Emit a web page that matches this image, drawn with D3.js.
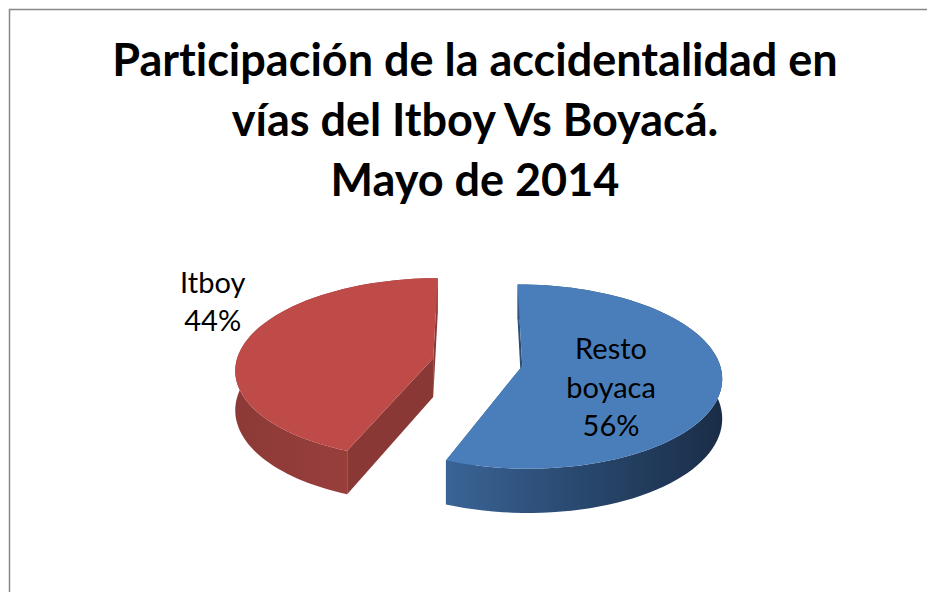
<!DOCTYPE html>
<html>
<head>
<meta charset="utf-8">
<script src="https://cdn.jsdelivr.net/npm/d3@7"></script>
<style>
  html, body { margin: 0; padding: 0; background: #fff; }
  svg { display: block; }
  text { font-family: Lato, "Open Sans", sans-serif; fill: #000; font-variant-ligatures: none; }
</style>
</head>
<body>
<div id="chart"></div>
<script>
const titleLines = ['Participación de la accidentalidad en', 'vías del Itboy Vs Boyacá.', 'Mayo de 2014']
const categories = ['Resto boyaca', 'Itboy']
const labelLines = [['Resto', 'boyaca', '56%'], ['Itboy', '44%']]
const values = [56, 44]
const topColors = ['#4a7ebb', '#be4b48']
const sideColors = ['#2d4d75', '#8a3835']

const width = 927
const height = 592

const cx = 477.5
const cy = 362
const rx = 197
const ry = 90
const perspective = 0.115
const depth = 39
const explode = 0.23

const svg = d3.select('#chart')
  .append('svg')
  .attr('width', width)
  .attr('height', height)

const defs = svg.append('defs')

const blueWall = defs.append('linearGradient').attr('id', 'wall0')
blueWall.append('stop').attr('offset', '0%').attr('stop-color', '#3a6496')
blueWall.append('stop').attr('offset', '45%').attr('stop-color', '#2a4a71')
blueWall.append('stop').attr('offset', '100%').attr('stop-color', '#1a2d47')

const redWall = defs.append('linearGradient').attr('id', 'wall1')
redWall.append('stop').attr('offset', '0%').attr('stop-color', '#8c3a37')
redWall.append('stop').attr('offset', '75%').attr('stop-color', '#9c403d')
redWall.append('stop').attr('offset', '100%').attr('stop-color', '#a3433f')

// page frame, open on the right and at the bottom
svg.append('path')
  .attr('d', `M9.5,${height}V9.5H${width}`)
  .attr('fill', 'none')
  .attr('stroke', '#878787')
  .attr('stroke-width', 1.5)

svg.selectAll('text.title')
  .data(titleLines)
  .join('text')
  .attr('class', 'title')
  .attr('x', 475)
  .attr('y', (d, i) => 76 + i * 60)
  .attr('text-anchor', 'middle')
  .style('font-size', '45px')
  .style('font-weight', 700)
  .text(d => d)

const pie = d3.pie().sort(null).value(d => d)
const slices = pie(values)

// unit disc -> screen, with the explode offset and a lift for the wall bottom
function project(a, r, slice, z) {
  const mid = (slice.startAngle + slice.endAngle) / 2
  const X = Math.sin(a) * r + Math.sin(mid) * explode
  const Y = -Math.cos(a) * r - Math.cos(mid) * explode
  const w = 1 - perspective * Y
  return [cx + rx * X / w, cy + ry * Y / w + z * depth / w]
}

const line = d3.line()

function rim(slice, z) {
  const n = 80
  return d3.range(n + 1).map(i => {
    const a = slice.startAngle + (slice.endAngle - slice.startAngle) * i / n
    return project(a, 1, slice, z)
  })
}

function radialWall(slice, a) {
  return [
    project(a, 1, slice, 0),
    project(a, 0, slice, 0),
    project(a, 0, slice, 1),
    project(a, 1, slice, 1)
  ]
}

const groups = svg.selectAll('g.slice')
  .data(slices)
  .join('g')
  .attr('class', 'slice')

groups.append('path')
  .attr('d', d => line(radialWall(d, d.startAngle)) + 'Z')
  .attr('fill', (d, i) => sideColors[i])

groups.append('path')
  .attr('d', d => line(radialWall(d, d.endAngle)) + 'Z')
  .attr('fill', (d, i) => sideColors[i])

groups.append('path')
  .attr('d', d => line(rim(d, 0).concat(rim(d, 1).reverse())) + 'Z')
  .attr('fill', (d, i) => `url(#wall${i})`)

groups.append('path')
  .attr('d', d => line(rim(d, 0).concat([project(d.endAngle, 0, d, 0)])) + 'Z')
  .attr('fill', (d, i) => topColors[i])

// labels: Resto boyaca sits inside its slice, Itboy outside
const labelRadius = [0.45, 1.18]
const labelShift = [14, -37]
const lineHeight = 38.5

slices.forEach((d, i) => {
  const mid = (d.startAngle + d.endAngle) / 2
  const [lx, ly] = project(mid, labelRadius[i], d, 0)
  const rows = labelLines[i]
  svg.append('text')
    .attr('aria-label', categories[i])
    .style('font-size', '29px')
    .attr('text-anchor', 'middle')
    .selectAll('tspan')
    .data(rows)
    .join('tspan')
    .attr('x', lx)
    .attr('y', (t, j) => ly + labelShift[i] + 10 + (j - (rows.length - 1) / 2) * lineHeight)
    .text(t => t)
})
</script>
</body>
</html>
